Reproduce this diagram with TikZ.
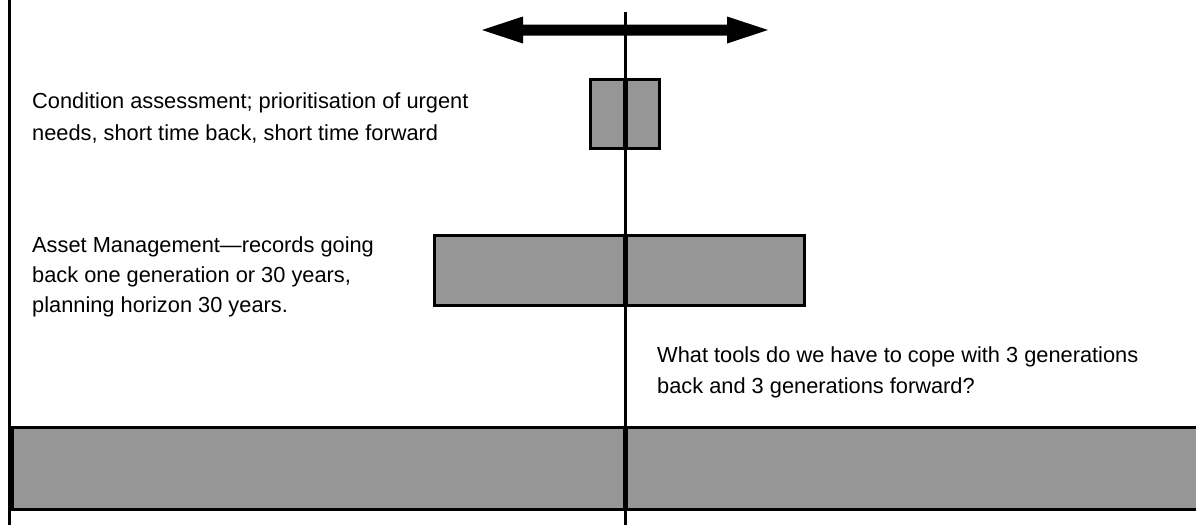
\documentclass[tikz,border=0pt]{standalone}
\usepackage{fontspec}
\setmainfont{Liberation Sans}
\definecolor{barfill}{RGB}{150,150,150}
\begin{document}
\begin{tikzpicture}[x=1pt,y=-1pt,
  bar/.style={draw=black,line width=3pt,fill=barfill,rectangle,inner sep=0pt,outer sep=0pt},
  lbl/.style={anchor=base west,inner sep=0pt,font=\fontsize{21.8}{31}\selectfont}]
\useasboundingbox (0,0) rectangle (1196,525);
\begin{scope}
\clip (0,0) rectangle (1196,525);
% left border
\draw[line width=3pt] (9.5,0) -- (9.5,525);
% boxes
\node[bar,minimum width=69pt,minimum height=69pt] (s) at (625,114) {};
\node[bar,minimum width=370pt,minimum height=70pt] (m) at (619.5,270.5) {};
\node[bar,minimum width=1193pt,minimum height=82pt] (b) at (608.5,468.5) {};
% centre line
\coordinate (ctop) at (625.5,12);
\coordinate (cbot) at (625.5,525);
\draw[line width=3pt] (ctop) -- (cbot);
\draw[line width=5pt] (s.north -| ctop) -- (s.south -| ctop);
\draw[line width=5pt] (m.north -| ctop) -- (m.south -| ctop);
\draw[line width=5pt] (b.north -| ctop) -- (b.south -| ctop);
% double arrow
\fill (482,30) -- (523,16.5) -- (523,24.5) -- (727,24.5) -- (727,16.5) -- (768,30)
  -- (727,43.5) -- (727,35.5) -- (523,35.5) -- (523,43.5) -- cycle;
% texts
\node[lbl] (c1) at (32,108) {Condition assessment; prioritisation of urgent};
\node[lbl] (c2) at (32,140) {needs, short time back, short time forward};
\node[lbl] (a1) at (32,252) {Asset Management—records going};
\node[lbl] (a2) at (32,282) {back one generation or 30 years,};
\node[lbl] (a3) at (32,312) {planning horizon 30 years.};
\node[lbl] (w1) at (657,362) {What tools do we have to cope with 3 generations};
\node[lbl] (w2) at (657,393) {back and 3 generations forward?};
\end{scope}
\end{tikzpicture}
\end{document}
